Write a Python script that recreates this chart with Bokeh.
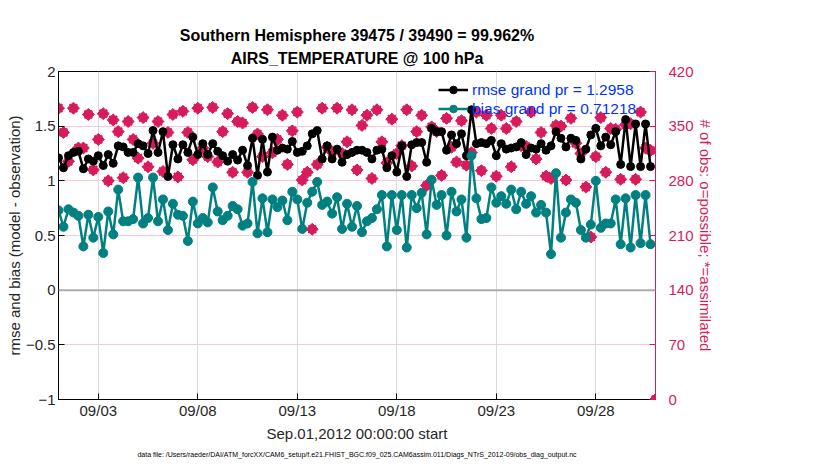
import pandas as pd
from bokeh.plotting import figure
from bokeh.models import (Range1d, LinearAxis, FixedTicker, DatetimeTickFormatter,
                          Title, Legend, LegendItem, Span)
from bokeh.embed import file_html
from bokeh.resources import INLINE

# ---------------- data ----------------
start_time = "2012-09-01 00:00"
n_bins = 120
bin_step = "6h"
times = pd.date_range(start_time, periods=n_bins, freq=bin_step)

rmse = [1.21, 1.12, 1.23, 1.26, 1.27, 1.11, 1.20, 1.18, 1.23, 1.14,
        1.24, 1.16, 1.32, 1.31, 1.26, 1.26, 1.34, 1.32, 1.25, 1.46,
        1.26, 1.45, 1.04, 1.33, 1.20, 1.33, 1.26, 1.40, 1.24, 1.34,
        1.24, 1.34, 1.27, 1.23, 1.18, 1.24, 1.19, 1.28, 1.14, 1.39,
        1.05, 1.38, 1.08, 1.40, 1.28, 1.30, 1.29, 1.36, 1.26, 1.27,
        1.32, 1.43, 1.46, 1.20, 1.32, 1.20, 1.29, 1.17, 1.24, 1.26,
        1.28, 1.28, 1.26, 1.20, 1.28, 1.29, 1.12, 1.23, 1.08, 1.32,
        1.04, 1.33, 1.35, 1.35, 1.17, 1.48, 1.45, 1.45, 1.28, 1.42,
        1.34, 1.43, 1.23, 1.65, 1.34, 1.35, 1.34, 1.37, 1.23, 1.34,
        1.29, 1.30, 1.31, 1.35, 1.24, 1.30, 1.29, 1.34, 1.28, 1.32,
        1.45, 1.39, 1.31, 1.39, 1.37, 1.20, 1.29, 1.42, 1.48, 1.32,
        1.40, 1.33, 1.45, 1.15, 1.56, 1.13, 1.52, 1.13, 1.52, 1.13]

bias = [0.73, 0.58, 0.74, 0.71, 0.68, 0.40, 0.69, 0.48, 0.67, 0.34,
        0.72, 0.51, 0.92, 0.63, 0.63, 0.65, 1.03, 0.61, 0.66, 1.03,
        0.63, 0.83, 0.55, 0.79, 0.69, 0.68, 0.45, 0.81, 0.61, 0.66,
        0.62, 0.94, 0.72, 0.64, 0.68, 0.77, 0.74, 0.59, 0.61, 0.99,
        0.52, 0.84, 0.53, 0.83, 0.76, 0.82, 0.64, 0.90, 0.83, 0.56,
        0.80, 0.90, 0.99, 0.78, 0.81, 0.70, 0.85, 0.56, 0.79, 0.58,
        0.77, 0.53, 0.63, 0.66, 0.74, 0.87, 0.40, 0.87, 0.55, 0.87,
        0.39, 0.87, 0.75, 0.89, 0.51, 1.01, 0.78, 0.87, 0.50, 0.90,
        0.72, 0.83, 0.48, 1.23, 0.84, 0.65, 0.66, 0.94, 0.80, 0.86,
        0.79, 0.92, 0.74, 0.90, 0.79, 0.86, 0.71, 0.78, 0.71, 0.33,
        1.07, 0.48, 0.71, 0.83, 0.80, 0.55, 0.48, 0.60, 1.00, 0.57,
        0.61, 0.61, 0.83, 0.42, 0.84, 0.39, 0.87, 0.43, 0.87, 0.42]

nobs = [373, 342, 305, 373, 322, 322, 365, 294, 333, 366,
        280, 358, 343, 284, 356, 333, 309, 361, 298, 328,
        356, 292, 342, 365, 285, 369, 342, 307, 373, 322,
        311, 374, 304, 343, 366, 291, 356, 354, 291, 374,
        340, 311, 371, 316, 333, 364, 301, 344, 368, 281,
        291, 218, 301, 373, 323, 317, 373, 315, 330, 371,
        294, 351, 364, 283, 371, 330, 303, 359, 315, 325,
        371, 299, 343, 364, 274, 349, 343, 287, 360, 323,
        304, 357, 300, 316, 368, 293, 364, 347, 286, 364,
        347, 298, 356, 325, 324, 368, 308, 342, 286, 283,
        351, 350, 281, 360, 328, 315, 272, 208, 311, 361,
        291, 347, 346, 282, 352, 353, 282, 368, 322, 319]

edge_marker_time = ["2012-10-01 00:00"]
edge_marker_count = [0]

x_start, x_end = "2012-09-01 00:00", "2012-10-01 00:00"
tick_dates = ["2012-09-03", "2012-09-08", "2012-09-13", "2012-09-18", "2012-09-23", "2012-09-28"]
left_ticks = [-1, -0.5, 0, 0.5, 1, 1.5, 2]
right_ticks = [0, 70, 140, 210, 280, 350, 420]

title1 = "Southern Hemisphere 39475 / 39490 = 99.962%"
title2 = "AIRS_TEMPERATURE @ 100 hPa"
xlabel = "Sep.01,2012 00:00:00 start"
ylabel = "rmse and bias (model - observation)"
ylabel2 = "# of obs: o=possible; *=assimilated"
footer = "data file: /Users/raeder/DAI/ATM_forcXX/CAM6_setup/f.e21.FHIST_BGC.f09_025.CAM6assim.011/Diags_NTrS_2012-09/obs_diag_output.nc"
legend_rmse = "rmse grand pr = 1.2958"
legend_bias = "bias grand pr = 0.71218"

# ---------------- styles ----------------
FONT = "Liberation Sans"
RED = "#D81B5C"
TEAL = "#008080"
PINK_GRID = "#F6CADA"
TXT = "#262626"

p = figure(width=814, height=462, x_axis_type="datetime",
           x_range=Range1d(pd.Timestamp(x_start), pd.Timestamp(x_end)),
           y_range=Range1d(-1, 2),
           output_backend="svg", toolbar_location=None,
           min_border_left=58, min_border_right=159,
           min_border_top=71, min_border_bottom=62)
p.background_fill_color = "white"
p.border_fill_color = "white"
p.outline_line_color = "black"
p.outline_line_width = 1

p.extra_y_ranges = {"nobs": Range1d(0, 420)}

# titles (p.title is the outer line, the added one sits next to the frame)
p.title.text = title1
p.title.align = "center"
p.title.text_font = FONT
p.title.text_font_size = "16px"
p.title.text_font_style = "bold"
p.title.text_color = "black"
p.title.standoff = 0
t2 = Title(text=title2, align="center", text_font=FONT, text_font_size="16px",
           text_font_style="bold", text_color="black", standoff=9,
           text_line_height=0.8)
p.add_layout(t2, "above")

# x axis
xa = p.xaxis[0]
xa.ticker = FixedTicker(ticks=[pd.Timestamp(d).value / 1e6 for d in tick_dates])
xa.formatter = DatetimeTickFormatter(days="%m/%d", months="%m/%d", hours="%m/%d",
                                     hourmin="%m/%d", years="%m/%d")
xa.major_tick_in = 6
xa.major_tick_out = 0
xa.minor_tick_in = 0
xa.minor_tick_out = 0
xa.major_label_text_font = FONT
xa.major_label_text_font_size = "15px"
xa.major_label_text_color = TXT
xa.major_label_standoff = 2
xa.axis_label = xlabel
xa.axis_label_text_font = FONT
xa.axis_label_text_font_size = "15px"
xa.axis_label_text_font_style = "normal"
xa.axis_label_text_color = TXT
xa.axis_label_standoff = 3
xa.axis_line_color = "black"

# left axis
ya = p.yaxis[0]
ya.ticker = FixedTicker(ticks=left_ticks)
ya.major_tick_in = 6
ya.major_tick_out = 0
ya.minor_tick_in = 0
ya.minor_tick_out = 0
ya.major_label_text_font = FONT
ya.major_label_text_font_size = "15px"
ya.major_label_text_color = TXT
ya.major_label_standoff = 3
ya.axis_label = ylabel
ya.axis_label_text_font = FONT
ya.axis_label_text_font_size = "15px"
ya.axis_label_text_font_style = "normal"
ya.axis_label_text_color = TXT
ya.axis_label_standoff = 0
ya.axis_line_color = "black"

# right axis
ra = LinearAxis(y_range_name="nobs", ticker=FixedTicker(ticks=right_ticks))
ra.major_tick_in = 6
ra.major_tick_out = 0
ra.minor_tick_in = 0
ra.minor_tick_out = 0
ra.axis_line_color = RED
ra.major_tick_line_color = RED
ra.major_label_text_color = RED
ra.major_label_text_font = FONT
ra.major_label_text_font_size = "15px"
ra.major_label_standoff = 13
ra.axis_label = ylabel2
ra.axis_label_text_font = FONT
ra.axis_label_text_font_size = "15px"
ra.axis_label_text_font_style = "normal"
ra.axis_label_text_color = RED
ra.axis_label_standoff = 0
p.add_layout(ra, "right")

# grids
p.xgrid.grid_line_color = "#DADADA"
p.xgrid.grid_line_width = 1
p.ygrid.ticker = FixedTicker(ticks=left_ticks)
p.ygrid.grid_line_color = PINK_GRID
p.ygrid.grid_line_width = 1

# footer
p.add_layout(Title(text=footer, align="center", text_font=FONT, text_font_size="7px",
                   text_font_style="normal", text_color="black", standoff=9), "below")

# zero line
p.add_layout(Span(location=0, dimension="width", line_color="#ABABAB", line_width=2))

# observation counts (o = possible, * = assimilated, drawn on top of each other)
obs_t = list(times) + list(pd.to_datetime(edge_marker_time))
obs_n = nobs + edge_marker_count
p.scatter(obs_t, obs_n, y_range_name="nobs", marker="square", angle=0.785398, size=8.5,
          fill_color=RED, line_color=RED, line_width=1)
p.scatter(obs_t, obs_n, y_range_name="nobs", marker="x", size=11,
          line_color=RED, line_width=2)

# rmse & bias
r1 = p.line(times, rmse, line_color="black", line_width=2.5)
r1c = p.scatter(times, rmse, marker="circle", size=8, fill_color="black", line_color="black")
r2 = p.line(times, bias, line_color=TEAL, line_width=2.5)
r2c = p.scatter(times, bias, marker="circle", size=9, fill_color=TEAL, line_color=TEAL)

legend = Legend(items=[LegendItem(label=legend_rmse, renderers=[r1, r1c]),
                       LegendItem(label=legend_bias, renderers=[r2, r2c])],
                location=(380, 281))
legend.background_fill_alpha = 0
legend.border_line_alpha = 0
legend.margin = 0
legend.padding = 0
legend.spacing = 0
legend.glyph_width = 30
legend.glyph_height = 19
legend.label_height = 19
legend.label_standoff = 4
legend.label_text_font = FONT
legend.label_text_font_size = "15.5px"
legend.label_text_color = "#0033FF"
p.add_layout(legend)

open("out.html", "w").write(file_html(p, INLINE))
